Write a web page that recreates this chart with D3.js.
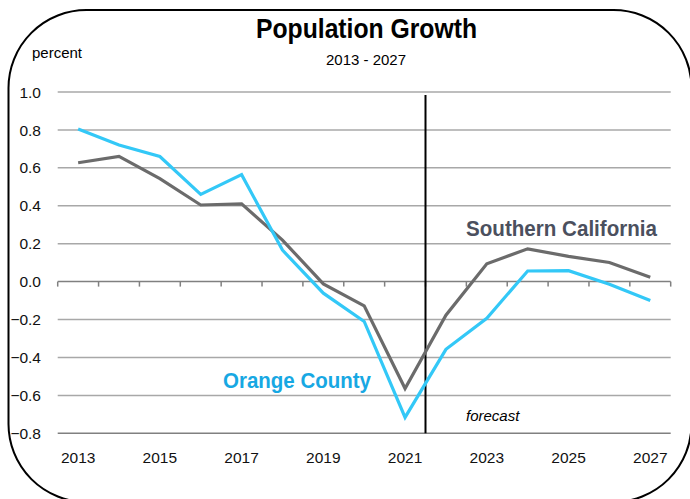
<!DOCTYPE html>
<html>
<head>
<meta charset="utf-8">
<script src="https://cdn.jsdelivr.net/npm/d3@7"></script>
<style>
  body { margin: 0; background: #fff; }
  svg { display: block; }
  text { font-family: "Liberation Sans", Arial, sans-serif; }
</style>
</head>
<body>
<svg width="690" height="499"></svg>
<script>
// data
var years = d3.range(2013, 2028);
var orangeCounty = [0.805, 0.72, 0.66, 0.46, 0.564, 0.166, -0.061, -0.21, -0.716, -0.357, -0.193, 0.056, 0.058, -0.014, -0.10];
var southernCal = [0.627, 0.66, 0.543, 0.404, 0.41, 0.219, -0.012, -0.128, -0.564, -0.177, 0.094, 0.173, 0.133, 0.101, 0.023];
var yTicks = [1.0, 0.8, 0.6, 0.4, 0.2, 0.0, -0.2, -0.4, -0.6, -0.8];
var xLabels = [2013, 2015, 2017, 2019, 2021, 2023, 2025, 2027];
var forecastStart = 2021; // line drawn after this year

var svg = d3.select("svg");

// frame
svg.append("rect")
  .attr("x", 8.5).attr("y", 10)
  .attr("width", 683).attr("height", 492)
  .attr("rx", 78).attr("ry", 78)
  .attr("fill", "none")
  .attr("stroke", "#000")
  .attr("stroke-width", 2);

var x = d3.scaleBand().domain(years).range([57.7, 670.7]);
var y = d3.scaleLinear().domain([-0.8, 1.0]).range([433.3, 92]);

// gridlines
svg.append("g")
  .selectAll("line")
  .data(yTicks)
  .enter().append("line")
  .attr("x1", x.range()[0])
  .attr("x2", x.range()[1])
  .attr("y1", function(d) { return y(d); })
  .attr("y2", function(d) { return y(d); })
  .attr("stroke", function(d) { return (d === 0 || d === -0.8) ? "#808080" : "#a8a8a8"; })
  .attr("stroke-width", 1.5);

// y labels
svg.append("g")
  .selectAll("text")
  .data(yTicks)
  .enter().append("text")
  .attr("x", 41)
  .attr("y", function(d) { return y(d); })
  .attr("dy", "0.36em")
  .attr("text-anchor", "end")
  .attr("font-size", "15.5px")
  .attr("fill", "#111")
  .text(function(d) { return d3.format(".1f")(d); });

// tick marks between categories on the zero line
var tickPos = years.map(function(d) { return x(d); }).concat([x.range()[1]]);
svg.append("g")
  .selectAll("line")
  .data(tickPos)
  .enter().append("line")
  .attr("x1", function(d) { return d; })
  .attr("x2", function(d) { return d; })
  .attr("y1", y(0))
  .attr("y2", y(0) + 5)
  .attr("stroke", "#808080")
  .attr("stroke-width", 1.5);

// x labels
svg.append("g")
  .selectAll("text")
  .data(xLabels)
  .enter().append("text")
  .attr("x", function(d) { return x(d) + x.bandwidth() / 2; })
  .attr("y", 463)
  .attr("text-anchor", "middle")
  .attr("font-size", "15.5px")
  .attr("fill", "#111")
  .text(function(d) { return d; });

// forecast divider
var divX = x(forecastStart) + x.bandwidth();
svg.append("line")
  .attr("x1", divX).attr("x2", divX)
  .attr("y1", 95).attr("y2", y(-0.8))
  .attr("stroke", "#000")
  .attr("stroke-width", 2);

var line = d3.line()
  .x(function(d, i) { return x(years[i]) + x.bandwidth() / 2; })
  .y(function(d) { return y(d); });

svg.append("path")
  .datum(southernCal)
  .attr("d", line)
  .attr("fill", "none")
  .attr("stroke", "#6b6b6b")
  .attr("stroke-width", 3.2);

svg.append("path")
  .datum(orangeCounty)
  .attr("d", line)
  .attr("fill", "none")
  .attr("stroke", "#33c8f7")
  .attr("stroke-width", 3.2);

// titles
svg.append("text")
  .attr("x", 366.5).attr("y", 38)
  .attr("text-anchor", "middle")
  .attr("font-size", "28px")
  .attr("font-weight", "bold")
  .attr("textLength", 221)
  .attr("lengthAdjust", "spacingAndGlyphs")
  .text("Population Growth");

svg.append("text")
  .attr("x", 366).attr("y", 65)
  .attr("text-anchor", "middle")
  .attr("font-size", "15px")
  .text("2013 - 2027");

svg.append("text")
  .attr("x", 32).attr("y", 58)
  .attr("font-size", "15px")
  .text("percent");

svg.append("text")
  .attr("x", 466).attr("y", 421)
  .attr("font-size", "15px")
  .attr("font-style", "italic")
  .text("forecast");

svg.append("text")
  .attr("x", 466).attr("y", 236)
  .attr("font-size", "22px")
  .attr("font-weight", "bold")
  .attr("fill", "#4b505e")
  .attr("textLength", 191)
  .attr("lengthAdjust", "spacingAndGlyphs")
  .text("Southern California");

svg.append("text")
  .attr("x", 223).attr("y", 388)
  .attr("font-size", "22px")
  .attr("font-weight", "bold")
  .attr("fill", "#17a8e3")
  .attr("textLength", 148)
  .attr("lengthAdjust", "spacingAndGlyphs")
  .text("Orange County");
</script>
</body>
</html>
